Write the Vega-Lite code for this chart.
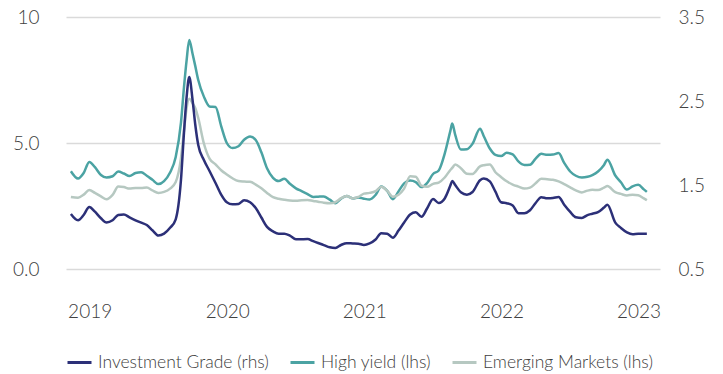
{
  "$schema": "https://vega.github.io/schema/vega-lite/v6.json",
  "width": 594,
  "height": 252,
  "autosize": {"type": "none"},
  "padding": {"left": 66, "top": 17, "right": 63, "bottom": 105},
  "background": "white",
  "config": {"view": {"stroke": null}, "font": "Lato"},
  "data": {"values": [
    {"date": "2019-05-13", "HY": 3.88, "EM": 2.86, "IG": 1.156},
    {"date": "2019-06-01", "HY": 3.59, "EM": 2.83, "IG": 1.081},
    {"date": "2019-06-16", "HY": 3.81, "EM": 2.95, "IG": 1.143},
    {"date": "2019-07-01", "HY": 4.25, "EM": 3.13, "IG": 1.238},
    {"date": "2019-07-16", "HY": 4.04, "EM": 3.02, "IG": 1.182},
    {"date": "2019-08-01", "HY": 3.73, "EM": 2.88, "IG": 1.104},
    {"date": "2019-08-16", "HY": 3.63, "EM": 2.77, "IG": 1.054},
    {"date": "2019-09-01", "HY": 3.68, "EM": 2.94, "IG": 1.080},
    {"date": "2019-09-16", "HY": 3.87, "EM": 3.27, "IG": 1.143},
    {"date": "2019-10-01", "HY": 3.79, "EM": 3.25, "IG": 1.150},
    {"date": "2019-10-16", "HY": 3.69, "EM": 3.19, "IG": 1.115},
    {"date": "2019-11-01", "HY": 3.81, "EM": 3.21, "IG": 1.080},
    {"date": "2019-11-16", "HY": 3.84, "EM": 3.21, "IG": 1.051},
    {"date": "2019-12-01", "HY": 3.70, "EM": 3.23, "IG": 1.023},
    {"date": "2019-12-16", "HY": 3.54, "EM": 3.12, "IG": 0.961},
    {"date": "2020-01-01", "HY": 3.37, "EM": 3.02, "IG": 0.898},
    {"date": "2020-01-16", "HY": 3.49, "EM": 3.06, "IG": 0.921},
    {"date": "2020-02-01", "HY": 3.83, "EM": 3.19, "IG": 0.990},
    {"date": "2020-02-16", "HY": 4.44, "EM": 3.45, "IG": 1.092},
    {"date": "2020-03-01", "HY": 5.81, "EM": 4.40, "IG": 1.560},
    {"date": "2020-03-09", "HY": 7.21, "EM": 5.49, "IG": 2.121},
    {"date": "2020-03-16", "HY": 8.28, "EM": 6.39, "IG": 2.545},
    {"date": "2020-03-23", "HY": 9.09, "EM": 6.76, "IG": 2.786},
    {"date": "2020-04-01", "HY": 8.53, "EM": 6.57, "IG": 2.508},
    {"date": "2020-04-08", "HY": 8.06, "EM": 6.39, "IG": 2.220},
    {"date": "2020-04-16", "HY": 7.50, "EM": 5.99, "IG": 1.976},
    {"date": "2020-05-01", "HY": 6.84, "EM": 4.98, "IG": 1.798},
    {"date": "2020-05-16", "HY": 6.45, "EM": 4.38, "IG": 1.667},
    {"date": "2020-06-01", "HY": 6.43, "EM": 4.15, "IG": 1.524},
    {"date": "2020-06-16", "HY": 5.67, "EM": 3.92, "IG": 1.386},
    {"date": "2020-07-01", "HY": 5.00, "EM": 3.75, "IG": 1.295},
    {"date": "2020-07-16", "HY": 4.80, "EM": 3.60, "IG": 1.270},
    {"date": "2020-08-01", "HY": 4.87, "EM": 3.49, "IG": 1.274},
    {"date": "2020-08-16", "HY": 5.13, "EM": 3.47, "IG": 1.318},
    {"date": "2020-09-01", "HY": 5.26, "EM": 3.46, "IG": 1.294},
    {"date": "2020-09-16", "HY": 5.12, "EM": 3.35, "IG": 1.226},
    {"date": "2020-10-01", "HY": 4.63, "EM": 3.20, "IG": 1.113},
    {"date": "2020-10-16", "HY": 4.00, "EM": 3.02, "IG": 1.001},
    {"date": "2020-11-01", "HY": 3.62, "EM": 2.85, "IG": 0.948},
    {"date": "2020-11-16", "HY": 3.49, "EM": 2.79, "IG": 0.920},
    {"date": "2020-12-01", "HY": 3.58, "EM": 2.75, "IG": 0.920},
    {"date": "2020-12-16", "HY": 3.38, "EM": 2.72, "IG": 0.896},
    {"date": "2021-01-01", "HY": 3.20, "EM": 2.71, "IG": 0.854},
    {"date": "2021-01-16", "HY": 3.09, "EM": 2.73, "IG": 0.855},
    {"date": "2021-02-01", "HY": 2.97, "EM": 2.74, "IG": 0.856},
    {"date": "2021-02-16", "HY": 2.86, "EM": 2.70, "IG": 0.831},
    {"date": "2021-03-01", "HY": 2.87, "EM": 2.67, "IG": 0.810},
    {"date": "2021-03-16", "HY": 2.88, "EM": 2.63, "IG": 0.785},
    {"date": "2021-04-01", "HY": 2.75, "EM": 2.61, "IG": 0.758},
    {"date": "2021-04-16", "HY": 2.61, "EM": 2.65, "IG": 0.751},
    {"date": "2021-05-01", "HY": 2.79, "EM": 2.81, "IG": 0.786},
    {"date": "2021-05-16", "HY": 2.90, "EM": 2.90, "IG": 0.808},
    {"date": "2021-06-01", "HY": 2.80, "EM": 2.80, "IG": 0.805},
    {"date": "2021-06-16", "HY": 2.84, "EM": 2.86, "IG": 0.802},
    {"date": "2021-07-01", "HY": 2.79, "EM": 2.99, "IG": 0.786},
    {"date": "2021-07-16", "HY": 2.76, "EM": 3.02, "IG": 0.804},
    {"date": "2021-08-01", "HY": 2.94, "EM": 3.09, "IG": 0.851},
    {"date": "2021-08-16", "HY": 3.27, "EM": 3.26, "IG": 0.926},
    {"date": "2021-09-01", "HY": 3.10, "EM": 3.10, "IG": 0.919},
    {"date": "2021-09-16", "HY": 2.77, "EM": 2.87, "IG": 0.873},
    {"date": "2021-10-01", "HY": 3.08, "EM": 2.95, "IG": 0.957},
    {"date": "2021-10-16", "HY": 3.40, "EM": 3.19, "IG": 1.054},
    {"date": "2021-11-01", "HY": 3.51, "EM": 3.68, "IG": 1.149},
    {"date": "2021-11-16", "HY": 3.45, "EM": 3.66, "IG": 1.175},
    {"date": "2021-12-01", "HY": 3.25, "EM": 3.31, "IG": 1.121},
    {"date": "2021-12-16", "HY": 3.41, "EM": 3.26, "IG": 1.220},
    {"date": "2022-01-01", "HY": 3.77, "EM": 3.38, "IG": 1.333},
    {"date": "2022-01-16", "HY": 3.91, "EM": 3.43, "IG": 1.286},
    {"date": "2022-02-01", "HY": 4.58, "EM": 3.63, "IG": 1.340},
    {"date": "2022-02-16", "HY": 5.48, "EM": 3.93, "IG": 1.493},
    {"date": "2022-02-21", "HY": 5.77, "EM": 4.01, "IG": 1.548},
    {"date": "2022-03-01", "HY": 5.32, "EM": 4.15, "IG": 1.499},
    {"date": "2022-03-16", "HY": 4.74, "EM": 4.00, "IG": 1.413},
    {"date": "2022-04-01", "HY": 4.75, "EM": 3.78, "IG": 1.385},
    {"date": "2022-04-16", "HY": 4.97, "EM": 3.77, "IG": 1.417},
    {"date": "2022-05-06", "HY": 5.57, "EM": 4.07, "IG": 1.556},
    {"date": "2022-05-16", "HY": 5.27, "EM": 4.12, "IG": 1.577},
    {"date": "2022-06-01", "HY": 4.78, "EM": 4.15, "IG": 1.542},
    {"date": "2022-06-16", "HY": 4.53, "EM": 3.84, "IG": 1.420},
    {"date": "2022-07-01", "HY": 4.48, "EM": 3.65, "IG": 1.295},
    {"date": "2022-07-16", "HY": 4.61, "EM": 3.48, "IG": 1.283},
    {"date": "2022-08-01", "HY": 4.55, "EM": 3.35, "IG": 1.256},
    {"date": "2022-08-16", "HY": 4.27, "EM": 3.27, "IG": 1.165},
    {"date": "2022-09-01", "HY": 4.13, "EM": 3.19, "IG": 1.164},
    {"date": "2022-09-16", "HY": 4.14, "EM": 3.23, "IG": 1.199},
    {"date": "2022-10-01", "HY": 4.38, "EM": 3.40, "IG": 1.286},
    {"date": "2022-10-16", "HY": 4.57, "EM": 3.58, "IG": 1.355},
    {"date": "2022-11-01", "HY": 4.53, "EM": 3.56, "IG": 1.342},
    {"date": "2022-11-16", "HY": 4.54, "EM": 3.54, "IG": 1.345},
    {"date": "2022-12-01", "HY": 4.60, "EM": 3.48, "IG": 1.357},
    {"date": "2022-12-16", "HY": 4.21, "EM": 3.37, "IG": 1.265},
    {"date": "2023-01-01", "HY": 3.87, "EM": 3.24, "IG": 1.179},
    {"date": "2023-01-16", "HY": 3.70, "EM": 3.12, "IG": 1.115},
    {"date": "2023-02-01", "HY": 3.63, "EM": 3.04, "IG": 1.108},
    {"date": "2023-02-16", "HY": 3.66, "EM": 3.11, "IG": 1.142},
    {"date": "2023-03-01", "HY": 3.73, "EM": 3.14, "IG": 1.158},
    {"date": "2023-03-16", "HY": 3.87, "EM": 3.13, "IG": 1.177},
    {"date": "2023-04-01", "HY": 4.13, "EM": 3.23, "IG": 1.232},
    {"date": "2023-04-10", "HY": 4.34, "EM": 3.29, "IG": 1.265},
    {"date": "2023-05-01", "HY": 3.71, "EM": 3.05, "IG": 1.052},
    {"date": "2023-05-16", "HY": 3.44, "EM": 2.98, "IG": 0.989},
    {"date": "2023-06-01", "HY": 3.15, "EM": 2.92, "IG": 0.937},
    {"date": "2023-06-16", "HY": 3.28, "EM": 2.95, "IG": 0.914},
    {"date": "2023-07-01", "HY": 3.34, "EM": 2.93, "IG": 0.920},
    {"date": "2023-07-16", "HY": 3.16, "EM": 2.80, "IG": 0.920},
    {"date": "2023-07-24", "HY": 3.06, "EM": 2.73, "IG": 0.920}
  ]},
  "encoding": {
    "x": {
      "field": "date",
      "type": "temporal",
      "scale": {
        "type": "utc",
        "domain": [
          {"year": 2019, "month": 4, "date": 30, "utc": true},
          {"year": 2023, "month": 8, "date": 28, "utc": true}
        ]
      },
      "axis": {
        "title": null,
        "grid": false,
        "domain": false,
        "ticks": false,
        "labelFlush": false,
        "labelPadding": 33,
        "labelFontSize": 19,
        "labelFontWeight": 300,
        "labelColor": "#404040",
        "format": "%Y",
        "values": [
          {"year": 2019, "month": 7, "date": 2, "utc": true},
          {"year": 2020, "month": 7, "date": 2, "utc": true},
          {"year": 2021, "month": 7, "date": 2, "utc": true},
          {"year": 2022, "month": 7, "date": 2, "utc": true},
          {"year": 2023, "month": 7, "date": 2, "utc": true}
        ]
      }
    },
    "color": {
      "field": "key",
      "type": "nominal",
      "scale": {"domain": ["IG", "HY", "EM"], "range": ["#2c3078", "#4ba3a3", "#b6c8c1"]},
      "legend": {
        "orient": "none",
        "legendX": 0,
        "legendY": 332,
        "direction": "horizontal",
        "title": null,
        "symbolType": "stroke",
        "symbolSize": 576,
        "symbolStrokeWidth": 3,
        "labelFontSize": 17.5,
        "labelFontWeight": 300,
        "labelColor": "#404040",
        "labelOffset": 5,
        "columnPadding": 15,
        "labelLimit": 300,
        "labelExpr": "datum.label == 'IG' ? 'Investment Grade (rhs)' : datum.label == 'HY' ? 'High yield (lhs)' : 'Emerging Markets (lhs)'"
      }
    }
  },
  "layer": [
    {
      "transform": [{"fold": ["HY", "EM"], "as": ["key", "value"]}],
      "mark": {"type": "line", "interpolate": "monotone", "strokeWidth": 2.5},
      "encoding": {
        "y": {
          "field": "value",
          "type": "quantitative",
          "scale": {"domain": [0, 10], "nice": false, "zero": false},
          "axis": {
            "title": null,
            "orient": "left",
            "values": [0, 5, 10],
            "labelExpr": "datum.value == 10 ? '10' : format(datum.value, '.1f')",
            "grid": true,
            "gridColor": "#dadada",
            "gridWidth": 1.5,
            "domain": false,
            "ticks": false,
            "labelPadding": 27,
            "labelFontSize": 19,
            "labelFontWeight": 300,
            "labelColor": "#404040"
          }
        }
      }
    },
    {
      "transform": [{"fold": ["IG"], "as": ["key", "value"]}],
      "mark": {"type": "line", "interpolate": "monotone", "strokeWidth": 2.5},
      "encoding": {
        "y": {
          "field": "value",
          "type": "quantitative",
          "scale": {"domain": [0.5, 3.5], "nice": false, "zero": false},
          "axis": {
            "title": null,
            "orient": "right",
            "values": [0.5, 1.5, 2.5, 3.5],
            "format": ".1f",
            "grid": false,
            "domain": false,
            "ticks": false,
            "labelPadding": 18,
            "labelFontSize": 19,
            "labelFontWeight": 300,
            "labelColor": "#404040"
          }
        }
      }
    }
  ],
  "resolve": {"scale": {"y": "independent"}}
}
